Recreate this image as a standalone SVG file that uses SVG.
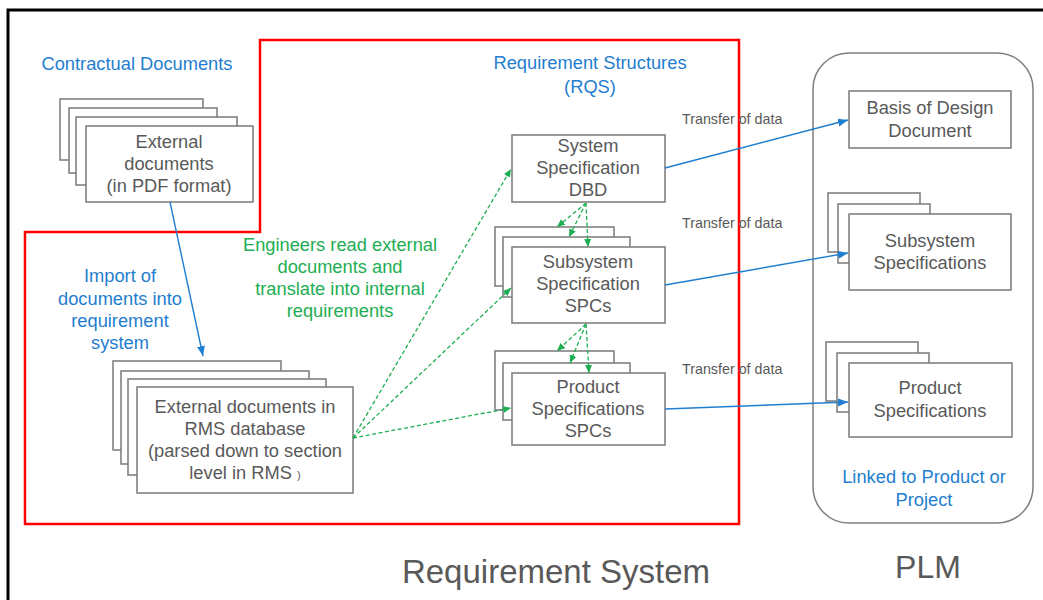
<svg xmlns="http://www.w3.org/2000/svg" width="1043" height="600" viewBox="0 0 1043 600">
<style>
text{font-family:"Liberation Sans",Arial,sans-serif;font-size:18.3px;text-anchor:middle}
.g{fill:#595959}
.b{fill:#1f7ecf}
.gr{fill:#1eae52}
.box{fill:#fff;stroke:#7a7a7a;stroke-width:1.5}
.blue{stroke:#1f7ecf;stroke-width:1.4;fill:none;marker-end:url(#ab)}
.green{stroke:#1eae52;stroke-width:1.3;fill:none;stroke-dasharray:4 2.5;marker-end:url(#ag)}
.tr{font-size:14.3px;text-anchor:start;fill:#595959}
</style>
<defs>
<marker id="ab" markerUnits="userSpaceOnUse" markerWidth="12" markerHeight="10" refX="10" refY="4" orient="auto">
<path d="M0,0 L10,4 L0,8 Z" fill="#1f7ecf"/>
</marker>
<marker id="ag" markerUnits="userSpaceOnUse" markerWidth="10" markerHeight="10" refX="8" refY="3.5" orient="auto">
<path d="M0,0 L8,3.5 L0,7 Z" fill="#1eae52"/>
</marker>
</defs>
<rect width="1043" height="600" fill="#fff"/>
<path d="M8,600 V10 H1043" fill="none" stroke="#000" stroke-width="3"/>
<g id="requirement-system">
<path d="M260,40 H739 V524 H25 V232 H260 Z" fill="none" stroke="#ff0000" stroke-width="2.5"/>
<text class="g" x="556" y="583" style="font-size:33px">Requirement System</text>
</g>
<g id="plm">
<rect x="813" y="53" width="220" height="470" rx="36" ry="36" fill="none" stroke="#7f7f7f" stroke-width="1.5"/>
<text class="g" x="928" y="578" style="font-size:32px">PLM</text>
<text class="b" x="924" y="483">Linked to Product or</text>
<text class="b" x="924" y="506">Project</text>
</g>
<g id="labels">
<text class="b" x="137" y="70">Contractual Documents</text>
<text class="b" x="590" y="69">Requirement Structures</text>
<text class="b" x="590" y="93">(RQS)</text>
<text class="b" x="120" y="282">Import of</text>
<text class="b" x="120" y="305">documents into</text>
<text class="b" x="120" y="327">requirement</text>
<text class="b" x="120" y="349">system</text>
<text class="gr" x="340" y="251">Engineers read external</text>
<text class="gr" x="340" y="273">documents and</text>
<text class="gr" x="340" y="295">translate into internal</text>
<text class="gr" x="340" y="317">requirements</text>
<text class="tr" x="682" y="124">Transfer of data</text>
<text class="tr" x="682" y="228">Transfer of data</text>
<text class="tr" x="682" y="374">Transfer of data</text>
</g>
<g id="external-documents">
<rect class="box" x="60" y="99" width="143" height="61"/>
<rect class="box" x="69" y="108" width="148" height="65"/>
<rect class="box" x="76" y="117" width="161" height="68"/>
<rect class="box" x="86" y="126" width="167" height="76"/>
<text class="g" x="169" y="148">External</text>
<text class="g" x="169" y="170">documents</text>
<text class="g" x="169" y="192">(in PDF format)</text>
</g>
<g id="rms-documents">
<rect class="box" x="113" y="361" width="168" height="89"/>
<rect class="box" x="121" y="371" width="188" height="93"/>
<rect class="box" x="128" y="379" width="198" height="96"/>
<rect class="box" x="137" y="387" width="216" height="106"/>
<text class="g" x="245" y="413">External documents in</text>
<text class="g" x="245" y="435">RMS database</text>
<text class="g" x="245" y="457">(parsed down to section</text>
<text class="g" x="245" y="479">level in RMS <tspan style="font-size:11px">)</tspan></text>
</g>
<g id="system-specification">
<rect class="box" x="512" y="135" width="153" height="67"/>
<text class="g" x="588" y="152">System</text>
<text class="g" x="588" y="174">Specification</text>
<text class="g" x="588" y="196">DBD</text>
</g>
<g id="subsystem-specification">
<rect class="box" x="495" y="227" width="119" height="59"/>
<rect class="box" x="503" y="237" width="127" height="60"/>
<rect class="box" x="512" y="247" width="153" height="76"/>
<text class="g" x="588" y="268">Subsystem</text>
<text class="g" x="588" y="290">Specification</text>
<text class="g" x="588" y="312">SPCs</text>
</g>
<g id="product-specification">
<rect class="box" x="495" y="351" width="119" height="59"/>
<rect class="box" x="503" y="363" width="127" height="57"/>
<rect class="box" x="512" y="373" width="153" height="72"/>
<text class="g" x="588" y="393">Product</text>
<text class="g" x="588" y="415">Specifications</text>
<text class="g" x="588" y="437">SPCs</text>
</g>
<g id="basis-of-design">
<rect class="box" x="849" y="91" width="162" height="57"/>
<text class="g" x="930" y="114">Basis of Design</text>
<text class="g" x="930" y="137">Document</text>
</g>
<g id="plm-subsystem-specifications">
<rect class="box" x="828" y="193" width="92" height="59"/>
<rect class="box" x="838" y="204" width="92" height="59"/>
<rect class="box" x="849" y="214" width="162" height="76"/>
<text class="g" x="930" y="247">Subsystem</text>
<text class="g" x="930" y="269">Specifications</text>
</g>
<g id="plm-product-specifications">
<rect class="box" x="826" y="342" width="92" height="59"/>
<rect class="box" x="837" y="353" width="92" height="59"/>
<rect class="box" x="849" y="363" width="163" height="74"/>
<text class="g" x="930" y="394">Product</text>
<text class="g" x="930" y="417">Specifications</text>
</g>
<g id="connectors">
<line class="blue" x1="170" y1="202" x2="203" y2="356"/>
<line class="blue" x1="665" y1="168" x2="848" y2="120"/>
<line class="blue" x1="665" y1="285" x2="848" y2="253"/>
<line class="blue" x1="665" y1="409" x2="848" y2="402"/>
<line class="green" x1="353" y1="438" x2="511" y2="169"/>
<line class="green" x1="353" y1="438" x2="511" y2="288"/>
<line class="green" x1="353" y1="438" x2="511" y2="408"/>
<line class="green" x1="586" y1="203" x2="557" y2="227"/>
<line class="green" x1="586" y1="203" x2="569" y2="237"/>
<line class="green" x1="586" y1="203" x2="588" y2="247"/>
<line class="green" x1="586" y1="324" x2="557" y2="351"/>
<line class="green" x1="586" y1="324" x2="570" y2="363"/>
<line class="green" x1="586" y1="324" x2="589" y2="373"/>
</g>
</svg>
